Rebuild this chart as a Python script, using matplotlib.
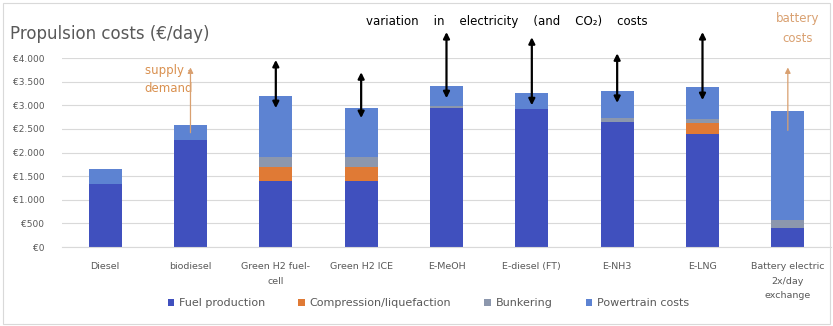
import numpy as np
import matplotlib.pyplot as plt
from matplotlib.ticker import FuncFormatter

categories = ['Diesel', 'biodiesel', 'Green H2 fuel-\ncell', 'Green H2 ICE', 'E-MeOH',
              'E-diesel (FT)', 'E-NH3', 'E-LNG', 'Battery electric\n2x/day\nexchange']
fuel_production = [1330, 2270, 1400, 1400, 2950, 2930, 2650, 2400, 400]
compression = [0, 0, 300, 300, 0, 0, 0, 230, 0]
bunkering = [0, 0, 200, 200, 30, 0, 90, 70, 180]
powertrain = [320, 310, 1300, 1050, 420, 320, 560, 680, 2290]

# black arrows: variation in electricity (and CO2) costs
var_idx = [2, 3, 4, 5, 6, 7]
var_low = [2940, 2730, 3150, 3000, 3050, 3110]
var_high = [3960, 3700, 4550, 4440, 4100, 4550]

# orange arrows
up_idx = [1, 8]
up_low = [2420, 2470]
up_high = [3800, 3800]

c_fuel = '#4050BE'
c_comp = '#E07A35'
c_bunk = '#8C97AD'
c_power = '#5D83D2'

fig = plt.figure(figsize=(8.33, 3.26), dpi=100)
fig.patches.append(plt.Rectangle((0.004, 0.006), 0.992, 0.985, transform=fig.transFigure,
                                 fill=False, edgecolor='#d9d9d9', linewidth=0.8))
ax = fig.add_axes([0.075, 0.242, 0.922, 0.58])

x = np.arange(len(categories))
w = 0.39
fp = np.array(fuel_production)
cp = np.array(compression)
bk = np.array(bunkering)
pt = np.array(powertrain)
ax.bar(x, fp, w, color=c_fuel, label='Fuel production', zorder=2)
ax.bar(x, cp, w, bottom=fp, color=c_comp, label='Compression/liquefaction', zorder=2)
ax.bar(x, bk, w, bottom=fp + cp, color=c_bunk, label='Bunkering', zorder=2)
ax.bar(x, pt, w, bottom=fp + cp + bk, color=c_power, label='Powertrain costs', zorder=2)

for i, lo, hi in zip(var_idx, var_low, var_high):
    ax.annotate('', xy=(i, hi), xytext=(i, lo), annotation_clip=False, zorder=4,
                arrowprops=dict(arrowstyle='<|-|>', color='black', lw=1.6,
                                mutation_scale=9, shrinkA=0, shrinkB=0))
for i, lo, hi in zip(up_idx, up_low, up_high):
    ax.annotate('', xy=(i, hi), xytext=(i, lo), annotation_clip=False, zorder=4,
                arrowprops=dict(arrowstyle='-|>', color='#D9A070', lw=0.9,
                                mutation_scale=8, shrinkA=0, shrinkB=0))

ax.text(0.74, 3550, 'supply -\ndemand', color='#D9904F', fontsize=8.5, ha='center',
        va='center', linespacing=1.5)
ax.text(8.12, 4620, 'battery\ncosts', color='#D9A070', fontsize=8.5, ha='center',
        va='center', linespacing=1.75)
ax.text(4.71, 4780, 'variation    in    electricity    (and    CO\u2082)    costs', color='black',
        fontsize=8.5, ha='center', va='center')
fig.text(0.012, 0.895, 'Propulsion costs (\u20ac/day)', color='#595959', fontsize=12,
         ha='left', va='center')

ax.set_xlim(-0.5, 8.5)
ax.set_ylim(0, 4000)
ax.set_yticks(np.arange(0, 4001, 500))
ax.yaxis.set_major_formatter(FuncFormatter(lambda v, p: '\u20ac' + f'{int(v):,}'.replace(',', '.')))
ax.set_xticks(x)
ax.set_xticklabels(categories, fontsize=6.8, color='#595959', linespacing=1.75)
ax.tick_params(axis='y', labelsize=6.5, labelcolor='#595959', length=0, pad=13)
ax.tick_params(axis='x', length=0, pad=11)
ax.grid(axis='y', color='#d9d9d9', linewidth=0.8, zorder=0)
ax.set_axisbelow(True)
for s in ['top', 'right', 'left']:
    ax.spines[s].set_visible(False)
ax.spines['bottom'].set_color('#d9d9d9')

fig.legend(loc='center', bbox_to_anchor=(0.514, 0.07), ncol=4, frameon=False,
           fontsize=8, handlelength=0.6, handleheight=0.6, columnspacing=3.0,
           handletextpad=0.4, labelcolor='#595959')

fig.savefig('out.png', dpi=100)
